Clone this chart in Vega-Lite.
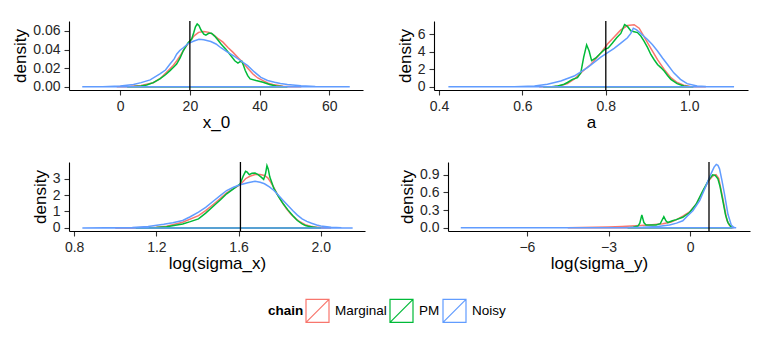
{
"$schema":"https://vega.github.io/schema/vega-lite/v6.json",
"padding":{"left":11,"top":20,"right":19,"bottom":16},
"datasets":{
"truth":[{"param":"x_0","value":20},{"param":"a","value":0.8},{"param":"log(sigma_x)","value":1.609},{"param":"log(sigma_y)","value":0.693}],
"dens":[
{"param":"x_0","chain":"Marginal","x":-1,"density":0},{"param":"x_0","chain":"Marginal","x":3,"density":0.0005},{"param":"x_0","chain":"Marginal","x":6,"density":0.0015},{"param":"x_0","chain":"Marginal","x":9.5,"density":0.0044},{"param":"x_0","chain":"Marginal","x":11.5,"density":0.009},{"param":"x_0","chain":"Marginal","x":13.3,"density":0.0156},{"param":"x_0","chain":"Marginal","x":15,"density":0.022},{"param":"x_0","chain":"Marginal","x":16.2,"density":0.0277},{"param":"x_0","chain":"Marginal","x":17.5,"density":0.035},{"param":"x_0","chain":"Marginal","x":18.6,"density":0.042},{"param":"x_0","chain":"Marginal","x":20,"density":0.049},{"param":"x_0","chain":"Marginal","x":21.3,"density":0.055},{"param":"x_0","chain":"Marginal","x":22.5,"density":0.0585},{"param":"x_0","chain":"Marginal","x":24,"density":0.0595},{"param":"x_0","chain":"Marginal","x":25.5,"density":0.0585},{"param":"x_0","chain":"Marginal","x":26.7,"density":0.056},{"param":"x_0","chain":"Marginal","x":28,"density":0.052},{"param":"x_0","chain":"Marginal","x":29.5,"density":0.048},{"param":"x_0","chain":"Marginal","x":31,"density":0.042},{"param":"x_0","chain":"Marginal","x":32.4,"density":0.037},{"param":"x_0","chain":"Marginal","x":33.8,"density":0.0315},{"param":"x_0","chain":"Marginal","x":35.2,"density":0.026},{"param":"x_0","chain":"Marginal","x":36.6,"density":0.02},{"param":"x_0","chain":"Marginal","x":38.1,"density":0.0138},{"param":"x_0","chain":"Marginal","x":39.5,"density":0.0095},{"param":"x_0","chain":"Marginal","x":41,"density":0.0067},{"param":"x_0","chain":"Marginal","x":42.5,"density":0.004},{"param":"x_0","chain":"Marginal","x":43.8,"density":0.0025},{"param":"x_0","chain":"Marginal","x":46.7,"density":0.0006},{"param":"x_0","chain":"Marginal","x":50,"density":0.0001},{"param":"x_0","chain":"Marginal","x":52,"density":0},
{"param":"x_0","chain":"PM","x":2,"density":0},{"param":"x_0","chain":"PM","x":4,"density":0.0003},{"param":"x_0","chain":"PM","x":6,"density":0.001},{"param":"x_0","chain":"PM","x":7.6,"density":0.002},{"param":"x_0","chain":"PM","x":9.5,"density":0.0045},{"param":"x_0","chain":"PM","x":11.4,"density":0.0085},{"param":"x_0","chain":"PM","x":13,"density":0.013},{"param":"x_0","chain":"PM","x":14.3,"density":0.0174},{"param":"x_0","chain":"PM","x":15.3,"density":0.021},{"param":"x_0","chain":"PM","x":16.2,"density":0.0245},{"param":"x_0","chain":"PM","x":17.2,"density":0.031},{"param":"x_0","chain":"PM","x":18.1,"density":0.0387},{"param":"x_0","chain":"PM","x":19.5,"density":0.0475},{"param":"x_0","chain":"PM","x":20.5,"density":0.051},{"param":"x_0","chain":"PM","x":21.1,"density":0.058},{"param":"x_0","chain":"PM","x":21.6,"density":0.0645},{"param":"x_0","chain":"PM","x":22.1,"density":0.0675},{"param":"x_0","chain":"PM","x":22.6,"density":0.066},{"param":"x_0","chain":"PM","x":23.2,"density":0.061},{"param":"x_0","chain":"PM","x":24,"density":0.0565},{"param":"x_0","chain":"PM","x":24.6,"density":0.0555},{"param":"x_0","chain":"PM","x":25.4,"density":0.0575},{"param":"x_0","chain":"PM","x":26.2,"density":0.0575},{"param":"x_0","chain":"PM","x":27.1,"density":0.0545},{"param":"x_0","chain":"PM","x":28,"density":0.0505},{"param":"x_0","chain":"PM","x":29,"density":0.0458},{"param":"x_0","chain":"PM","x":30.2,"density":0.041},{"param":"x_0","chain":"PM","x":31.4,"density":0.0352},{"param":"x_0","chain":"PM","x":32.9,"density":0.028},{"param":"x_0","chain":"PM","x":33.8,"density":0.0255},{"param":"x_0","chain":"PM","x":34.4,"density":0.027},{"param":"x_0","chain":"PM","x":34.9,"density":0.0275},{"param":"x_0","chain":"PM","x":35.4,"density":0.023},{"param":"x_0","chain":"PM","x":35.9,"density":0.0175},{"param":"x_0","chain":"PM","x":36.6,"density":0.012},{"param":"x_0","chain":"PM","x":37.3,"density":0.0085},{"param":"x_0","chain":"PM","x":39,"density":0.0067},{"param":"x_0","chain":"PM","x":41,"density":0.005},{"param":"x_0","chain":"PM","x":42.9,"density":0.0025},{"param":"x_0","chain":"PM","x":44.8,"density":0.0008},{"param":"x_0","chain":"PM","x":47,"density":0.0001},{"param":"x_0","chain":"PM","x":48,"density":0},
{"param":"x_0","chain":"Noisy","x":-10.9,"density":0},{"param":"x_0","chain":"Noisy","x":-5,"density":0.0001},{"param":"x_0","chain":"Noisy","x":0,"density":0.0008},{"param":"x_0","chain":"Noisy","x":3.8,"density":0.0024},{"param":"x_0","chain":"Noisy","x":6,"density":0.0045},{"param":"x_0","chain":"Noisy","x":8.6,"density":0.0075},{"param":"x_0","chain":"Noisy","x":11.4,"density":0.0138},{"param":"x_0","chain":"Noisy","x":13,"density":0.018},{"param":"x_0","chain":"Noisy","x":14.3,"density":0.0245},{"param":"x_0","chain":"Noisy","x":15.5,"density":0.03},{"param":"x_0","chain":"Noisy","x":16.2,"density":0.035},{"param":"x_0","chain":"Noisy","x":17.1,"density":0.039},{"param":"x_0","chain":"Noisy","x":18.1,"density":0.042},{"param":"x_0","chain":"Noisy","x":19.5,"density":0.0465},{"param":"x_0","chain":"Noisy","x":21,"density":0.049},{"param":"x_0","chain":"Noisy","x":22.6,"density":0.051},{"param":"x_0","chain":"Noisy","x":24,"density":0.0505},{"param":"x_0","chain":"Noisy","x":26,"density":0.0486},{"param":"x_0","chain":"Noisy","x":27.5,"density":0.046},{"param":"x_0","chain":"Noisy","x":28.9,"density":0.042},{"param":"x_0","chain":"Noisy","x":30.7,"density":0.0375},{"param":"x_0","chain":"Noisy","x":32.7,"density":0.033},{"param":"x_0","chain":"Noisy","x":34.6,"density":0.028},{"param":"x_0","chain":"Noisy","x":36.6,"density":0.0227},{"param":"x_0","chain":"Noisy","x":38.5,"density":0.016},{"param":"x_0","chain":"Noisy","x":40.4,"density":0.0102},{"param":"x_0","chain":"Noisy","x":42.3,"density":0.0068},{"param":"x_0","chain":"Noisy","x":44.3,"density":0.0049},{"param":"x_0","chain":"Noisy","x":46,"density":0.0035},{"param":"x_0","chain":"Noisy","x":48,"density":0.0025},{"param":"x_0","chain":"Noisy","x":51.9,"density":0.0012},{"param":"x_0","chain":"Noisy","x":56,"density":0.0004},{"param":"x_0","chain":"Noisy","x":60,"density":0.0001},{"param":"x_0","chain":"Noisy","x":65.9,"density":0},
{"param":"a","chain":"Marginal","x":0.64,"density":0},{"param":"a","chain":"Marginal","x":0.677,"density":0.05},{"param":"a","chain":"Marginal","x":0.69,"density":0.12},{"param":"a","chain":"Marginal","x":0.708,"density":0.37},{"param":"a","chain":"Marginal","x":0.725,"density":0.9},{"param":"a","chain":"Marginal","x":0.74,"density":1.6},{"param":"a","chain":"Marginal","x":0.752,"density":2.1},{"param":"a","chain":"Marginal","x":0.764,"density":2.55},{"param":"a","chain":"Marginal","x":0.776,"density":3.2},{"param":"a","chain":"Marginal","x":0.788,"density":3.86},{"param":"a","chain":"Marginal","x":0.804,"density":4.9},{"param":"a","chain":"Marginal","x":0.82,"density":5.7},{"param":"a","chain":"Marginal","x":0.836,"density":6.5},{"param":"a","chain":"Marginal","x":0.852,"density":7.0},{"param":"a","chain":"Marginal","x":0.868,"density":7.1},{"param":"a","chain":"Marginal","x":0.88,"density":6.7},{"param":"a","chain":"Marginal","x":0.892,"density":5.7},{"param":"a","chain":"Marginal","x":0.908,"density":4.4},{"param":"a","chain":"Marginal","x":0.924,"density":3.1},{"param":"a","chain":"Marginal","x":0.94,"density":2.0},{"param":"a","chain":"Marginal","x":0.956,"density":1.05},{"param":"a","chain":"Marginal","x":0.971,"density":0.5},{"param":"a","chain":"Marginal","x":0.987,"density":0.19},{"param":"a","chain":"Marginal","x":1.003,"density":0.05},{"param":"a","chain":"Marginal","x":1.02,"density":0.01},{"param":"a","chain":"Marginal","x":1.04,"density":0},
{"param":"a","chain":"PM","x":0.65,"density":0},{"param":"a","chain":"PM","x":0.67,"density":0.02},{"param":"a","chain":"PM","x":0.685,"density":0.1},{"param":"a","chain":"PM","x":0.7,"density":0.3},{"param":"a","chain":"PM","x":0.708,"density":0.5},{"param":"a","chain":"PM","x":0.72,"density":0.86},{"param":"a","chain":"PM","x":0.732,"density":1.05},{"param":"a","chain":"PM","x":0.74,"density":1.6},{"param":"a","chain":"PM","x":0.747,"density":3.4},{"param":"a","chain":"PM","x":0.754,"density":4.8},{"param":"a","chain":"PM","x":0.76,"density":4.1},{"param":"a","chain":"PM","x":0.766,"density":3.0},{"param":"a","chain":"PM","x":0.776,"density":3.3},{"param":"a","chain":"PM","x":0.788,"density":3.86},{"param":"a","chain":"PM","x":0.798,"density":4.3},{"param":"a","chain":"PM","x":0.806,"density":4.45},{"param":"a","chain":"PM","x":0.816,"density":5.0},{"param":"a","chain":"PM","x":0.826,"density":5.6},{"param":"a","chain":"PM","x":0.836,"density":6.1},{"param":"a","chain":"PM","x":0.845,"density":7.1},{"param":"a","chain":"PM","x":0.852,"density":6.9},{"param":"a","chain":"PM","x":0.86,"density":6.4},{"param":"a","chain":"PM","x":0.868,"density":6.3},{"param":"a","chain":"PM","x":0.876,"density":6.2},{"param":"a","chain":"PM","x":0.884,"density":5.8},{"param":"a","chain":"PM","x":0.892,"density":5.2},{"param":"a","chain":"PM","x":0.9,"density":4.5},{"param":"a","chain":"PM","x":0.908,"density":3.7},{"param":"a","chain":"PM","x":0.916,"density":3.1},{"param":"a","chain":"PM","x":0.924,"density":2.55},{"param":"a","chain":"PM","x":0.932,"density":2.2},{"param":"a","chain":"PM","x":0.94,"density":1.8},{"param":"a","chain":"PM","x":0.948,"density":1.3},{"param":"a","chain":"PM","x":0.956,"density":0.86},{"param":"a","chain":"PM","x":0.971,"density":0.37},{"param":"a","chain":"PM","x":0.987,"density":0.11},{"param":"a","chain":"PM","x":1.0,"density":0.02},{"param":"a","chain":"PM","x":1.01,"density":0},
{"param":"a","chain":"Noisy","x":0.4225,"density":0},{"param":"a","chain":"Noisy","x":0.5,"density":0.003},{"param":"a","chain":"Noisy","x":0.581,"density":0.02},{"param":"a","chain":"Noisy","x":0.629,"density":0.11},{"param":"a","chain":"Noisy","x":0.66,"density":0.3},{"param":"a","chain":"Noisy","x":0.692,"density":0.67},{"param":"a","chain":"Noisy","x":0.724,"density":1.24},{"param":"a","chain":"Noisy","x":0.756,"density":2.2},{"param":"a","chain":"Noisy","x":0.788,"density":3.4},{"param":"a","chain":"Noisy","x":0.82,"density":4.4},{"param":"a","chain":"Noisy","x":0.836,"density":5.0},{"param":"a","chain":"Noisy","x":0.852,"density":5.6},{"param":"a","chain":"Noisy","x":0.86,"density":6.1},{"param":"a","chain":"Noisy","x":0.866,"density":6.7},{"param":"a","chain":"Noisy","x":0.874,"density":6.5},{"param":"a","chain":"Noisy","x":0.884,"density":6.1},{"param":"a","chain":"Noisy","x":0.9,"density":5.4},{"param":"a","chain":"Noisy","x":0.912,"density":4.8},{"param":"a","chain":"Noisy","x":0.924,"density":4.1},{"param":"a","chain":"Noisy","x":0.936,"density":3.3},{"param":"a","chain":"Noisy","x":0.948,"density":2.55},{"param":"a","chain":"Noisy","x":0.963,"density":1.6},{"param":"a","chain":"Noisy","x":0.979,"density":0.86},{"param":"a","chain":"Noisy","x":0.995,"density":0.37},{"param":"a","chain":"Noisy","x":1.019,"density":0.11},{"param":"a","chain":"Noisy","x":1.04,"density":0.04},{"param":"a","chain":"Noisy","x":1.059,"density":0.02},{"param":"a","chain":"Noisy","x":1.08,"density":0.005},{"param":"a","chain":"Noisy","x":1.1076,"density":0},
{"param":"log(sigma_x)","chain":"Marginal","x":1.0,"density":0},{"param":"log(sigma_x)","chain":"Marginal","x":1.1,"density":0.005},{"param":"log(sigma_x)","chain":"Marginal","x":1.2,"density":0.04},{"param":"log(sigma_x)","chain":"Marginal","x":1.25,"density":0.1},{"param":"log(sigma_x)","chain":"Marginal","x":1.328,"density":0.34},{"param":"log(sigma_x)","chain":"Marginal","x":1.405,"density":0.75},{"param":"log(sigma_x)","chain":"Marginal","x":1.44,"density":1.05},{"param":"log(sigma_x)","chain":"Marginal","x":1.481,"density":1.47},{"param":"log(sigma_x)","chain":"Marginal","x":1.512,"density":1.8},{"param":"log(sigma_x)","chain":"Marginal","x":1.542,"density":2.14},{"param":"log(sigma_x)","chain":"Marginal","x":1.575,"density":2.4},{"param":"log(sigma_x)","chain":"Marginal","x":1.608,"density":2.63},{"param":"log(sigma_x)","chain":"Marginal","x":1.634,"density":3.0},{"param":"log(sigma_x)","chain":"Marginal","x":1.655,"density":3.15},{"param":"log(sigma_x)","chain":"Marginal","x":1.68,"density":3.25},{"param":"log(sigma_x)","chain":"Marginal","x":1.705,"density":3.25},{"param":"log(sigma_x)","chain":"Marginal","x":1.726,"density":3.2},{"param":"log(sigma_x)","chain":"Marginal","x":1.742,"density":3.05},{"param":"log(sigma_x)","chain":"Marginal","x":1.756,"density":2.79},{"param":"log(sigma_x)","chain":"Marginal","x":1.772,"density":2.45},{"param":"log(sigma_x)","chain":"Marginal","x":1.787,"density":2.08},{"param":"log(sigma_x)","chain":"Marginal","x":1.81,"density":1.6},{"param":"log(sigma_x)","chain":"Marginal","x":1.833,"density":1.16},{"param":"log(sigma_x)","chain":"Marginal","x":1.856,"density":0.82},{"param":"log(sigma_x)","chain":"Marginal","x":1.879,"density":0.55},{"param":"log(sigma_x)","chain":"Marginal","x":1.9,"density":0.36},{"param":"log(sigma_x)","chain":"Marginal","x":1.924,"density":0.2},{"param":"log(sigma_x)","chain":"Marginal","x":1.95,"density":0.1},{"param":"log(sigma_x)","chain":"Marginal","x":1.97,"density":0.06},{"param":"log(sigma_x)","chain":"Marginal","x":2.0,"density":0.02},{"param":"log(sigma_x)","chain":"Marginal","x":2.05,"density":0},
{"param":"log(sigma_x)","chain":"PM","x":1.1,"density":0},{"param":"log(sigma_x)","chain":"PM","x":1.2,"density":0.02},{"param":"log(sigma_x)","chain":"PM","x":1.25,"density":0.07},{"param":"log(sigma_x)","chain":"PM","x":1.328,"density":0.24},{"param":"log(sigma_x)","chain":"PM","x":1.365,"density":0.38},{"param":"log(sigma_x)","chain":"PM","x":1.405,"density":0.55},{"param":"log(sigma_x)","chain":"PM","x":1.44,"density":0.9},{"param":"log(sigma_x)","chain":"PM","x":1.481,"density":1.37},{"param":"log(sigma_x)","chain":"PM","x":1.512,"density":1.72},{"param":"log(sigma_x)","chain":"PM","x":1.542,"density":2.08},{"param":"log(sigma_x)","chain":"PM","x":1.575,"density":2.38},{"param":"log(sigma_x)","chain":"PM","x":1.608,"density":2.69},{"param":"log(sigma_x)","chain":"PM","x":1.622,"density":3.15},{"param":"log(sigma_x)","chain":"PM","x":1.634,"density":3.45},{"param":"log(sigma_x)","chain":"PM","x":1.642,"density":3.4},{"param":"log(sigma_x)","chain":"PM","x":1.652,"density":3.25},{"param":"log(sigma_x)","chain":"PM","x":1.665,"density":3.33},{"param":"log(sigma_x)","chain":"PM","x":1.68,"density":3.35},{"param":"log(sigma_x)","chain":"PM","x":1.695,"density":3.25},{"param":"log(sigma_x)","chain":"PM","x":1.71,"density":3.1},{"param":"log(sigma_x)","chain":"PM","x":1.722,"density":2.96},{"param":"log(sigma_x)","chain":"PM","x":1.731,"density":3.3},{"param":"log(sigma_x)","chain":"PM","x":1.738,"density":3.8},{"param":"log(sigma_x)","chain":"PM","x":1.744,"density":3.6},{"param":"log(sigma_x)","chain":"PM","x":1.752,"density":3.1},{"param":"log(sigma_x)","chain":"PM","x":1.762,"density":2.75},{"param":"log(sigma_x)","chain":"PM","x":1.772,"density":2.39},{"param":"log(sigma_x)","chain":"PM","x":1.795,"density":1.9},{"param":"log(sigma_x)","chain":"PM","x":1.817,"density":1.47},{"param":"log(sigma_x)","chain":"PM","x":1.84,"density":1.1},{"param":"log(sigma_x)","chain":"PM","x":1.863,"density":0.75},{"param":"log(sigma_x)","chain":"PM","x":1.886,"density":0.45},{"param":"log(sigma_x)","chain":"PM","x":1.909,"density":0.24},{"param":"log(sigma_x)","chain":"PM","x":1.925,"density":0.15},{"param":"log(sigma_x)","chain":"PM","x":1.939,"density":0.1},{"param":"log(sigma_x)","chain":"PM","x":1.96,"density":0.05},{"param":"log(sigma_x)","chain":"PM","x":1.98,"density":0.02},{"param":"log(sigma_x)","chain":"PM","x":2.0,"density":0},
{"param":"log(sigma_x)","chain":"Noisy","x":0.84,"density":0},{"param":"log(sigma_x)","chain":"Noisy","x":0.95,"density":0.005},{"param":"log(sigma_x)","chain":"Noisy","x":1.0,"density":0.01},{"param":"log(sigma_x)","chain":"Noisy","x":1.083,"density":0.03},{"param":"log(sigma_x)","chain":"Noisy","x":1.16,"density":0.09},{"param":"log(sigma_x)","chain":"Noisy","x":1.236,"density":0.22},{"param":"log(sigma_x)","chain":"Noisy","x":1.28,"density":0.32},{"param":"log(sigma_x)","chain":"Noisy","x":1.328,"density":0.45},{"param":"log(sigma_x)","chain":"Noisy","x":1.365,"density":0.68},{"param":"log(sigma_x)","chain":"Noisy","x":1.405,"density":0.96},{"param":"log(sigma_x)","chain":"Noisy","x":1.44,"density":1.25},{"param":"log(sigma_x)","chain":"Noisy","x":1.481,"density":1.67},{"param":"log(sigma_x)","chain":"Noisy","x":1.512,"density":1.98},{"param":"log(sigma_x)","chain":"Noisy","x":1.542,"density":2.28},{"param":"log(sigma_x)","chain":"Noisy","x":1.575,"density":2.48},{"param":"log(sigma_x)","chain":"Noisy","x":1.608,"density":2.63},{"param":"log(sigma_x)","chain":"Noisy","x":1.645,"density":2.75},{"param":"log(sigma_x)","chain":"Noisy","x":1.68,"density":2.84},{"param":"log(sigma_x)","chain":"Noisy","x":1.705,"density":2.78},{"param":"log(sigma_x)","chain":"Noisy","x":1.726,"density":2.69},{"param":"log(sigma_x)","chain":"Noisy","x":1.75,"density":2.5},{"param":"log(sigma_x)","chain":"Noisy","x":1.772,"density":2.28},{"param":"log(sigma_x)","chain":"Noisy","x":1.795,"density":1.98},{"param":"log(sigma_x)","chain":"Noisy","x":1.817,"density":1.67},{"param":"log(sigma_x)","chain":"Noisy","x":1.84,"density":1.36},{"param":"log(sigma_x)","chain":"Noisy","x":1.863,"density":1.06},{"param":"log(sigma_x)","chain":"Noisy","x":1.886,"density":0.78},{"param":"log(sigma_x)","chain":"Noisy","x":1.909,"density":0.55},{"param":"log(sigma_x)","chain":"Noisy","x":1.932,"density":0.4},{"param":"log(sigma_x)","chain":"Noisy","x":1.955,"density":0.28},{"param":"log(sigma_x)","chain":"Noisy","x":1.98,"density":0.18},{"param":"log(sigma_x)","chain":"Noisy","x":2.0,"density":0.12},{"param":"log(sigma_x)","chain":"Noisy","x":2.05,"density":0.04},{"param":"log(sigma_x)","chain":"Noisy","x":2.1,"density":0.01},{"param":"log(sigma_x)","chain":"Noisy","x":2.155,"density":0},
{"param":"log(sigma_y)","chain":"Marginal","x":-4.5,"density":0},{"param":"log(sigma_y)","chain":"Marginal","x":-4,"density":0.005},{"param":"log(sigma_y)","chain":"Marginal","x":-3,"density":0.015},{"param":"log(sigma_y)","chain":"Marginal","x":-2.5,"density":0.025},{"param":"log(sigma_y)","chain":"Marginal","x":-2,"density":0.035},{"param":"log(sigma_y)","chain":"Marginal","x":-1.5,"density":0.05},{"param":"log(sigma_y)","chain":"Marginal","x":-1,"density":0.07},{"param":"log(sigma_y)","chain":"Marginal","x":-0.7,"density":0.1},{"param":"log(sigma_y)","chain":"Marginal","x":-0.5,"density":0.14},{"param":"log(sigma_y)","chain":"Marginal","x":-0.27,"density":0.2},{"param":"log(sigma_y)","chain":"Marginal","x":-0.02,"density":0.27},{"param":"log(sigma_y)","chain":"Marginal","x":0.22,"density":0.4},{"param":"log(sigma_y)","chain":"Marginal","x":0.47,"density":0.62},{"param":"log(sigma_y)","chain":"Marginal","x":0.68,"density":0.8},{"param":"log(sigma_y)","chain":"Marginal","x":0.83,"density":0.88},{"param":"log(sigma_y)","chain":"Marginal","x":0.95,"density":0.9},{"param":"log(sigma_y)","chain":"Marginal","x":1.05,"density":0.84},{"param":"log(sigma_y)","chain":"Marginal","x":1.2,"density":0.5},{"param":"log(sigma_y)","chain":"Marginal","x":1.35,"density":0.13},{"param":"log(sigma_y)","chain":"Marginal","x":1.45,"density":0.04},{"param":"log(sigma_y)","chain":"Marginal","x":1.55,"density":0.005},{"param":"log(sigma_y)","chain":"Marginal","x":1.6,"density":0},
{"param":"log(sigma_y)","chain":"PM","x":-2.3,"density":0},{"param":"log(sigma_y)","chain":"PM","x":-2.1,"density":0.01},{"param":"log(sigma_y)","chain":"PM","x":-1.92,"density":0.03},{"param":"log(sigma_y)","chain":"PM","x":-1.85,"density":0.08},{"param":"log(sigma_y)","chain":"PM","x":-1.776,"density":0.22},{"param":"log(sigma_y)","chain":"PM","x":-1.7,"density":0.09},{"param":"log(sigma_y)","chain":"PM","x":-1.62,"density":0.05},{"param":"log(sigma_y)","chain":"PM","x":-1.25,"density":0.05},{"param":"log(sigma_y)","chain":"PM","x":-1.1,"density":0.07},{"param":"log(sigma_y)","chain":"PM","x":-0.967,"density":0.19},{"param":"log(sigma_y)","chain":"PM","x":-0.89,"density":0.12},{"param":"log(sigma_y)","chain":"PM","x":-0.82,"density":0.09},{"param":"log(sigma_y)","chain":"PM","x":-0.65,"density":0.12},{"param":"log(sigma_y)","chain":"PM","x":-0.51,"density":0.14},{"param":"log(sigma_y)","chain":"PM","x":-0.27,"density":0.18},{"param":"log(sigma_y)","chain":"PM","x":-0.02,"density":0.26},{"param":"log(sigma_y)","chain":"PM","x":0.22,"density":0.4},{"param":"log(sigma_y)","chain":"PM","x":0.47,"density":0.63},{"param":"log(sigma_y)","chain":"PM","x":0.68,"density":0.81},{"param":"log(sigma_y)","chain":"PM","x":0.83,"density":0.9},{"param":"log(sigma_y)","chain":"PM","x":0.92,"density":0.89},{"param":"log(sigma_y)","chain":"PM","x":1.02,"density":0.83},{"param":"log(sigma_y)","chain":"PM","x":1.1,"density":0.7},{"param":"log(sigma_y)","chain":"PM","x":1.2,"density":0.46},{"param":"log(sigma_y)","chain":"PM","x":1.3,"density":0.22},{"param":"log(sigma_y)","chain":"PM","x":1.39,"density":0.09},{"param":"log(sigma_y)","chain":"PM","x":1.51,"density":0.01},{"param":"log(sigma_y)","chain":"PM","x":1.55,"density":0},
{"param":"log(sigma_y)","chain":"Noisy","x":-8.43,"density":0},{"param":"log(sigma_y)","chain":"Noisy","x":-6,"density":0.0005},{"param":"log(sigma_y)","chain":"Noisy","x":-4,"density":0.001},{"param":"log(sigma_y)","chain":"Noisy","x":-2.5,"density":0.004},{"param":"log(sigma_y)","chain":"Noisy","x":-1.74,"density":0.01},{"param":"log(sigma_y)","chain":"Noisy","x":-1.2,"density":0.025},{"param":"log(sigma_y)","chain":"Noisy","x":-0.76,"density":0.05},{"param":"log(sigma_y)","chain":"Noisy","x":-0.5,"density":0.08},{"param":"log(sigma_y)","chain":"Noisy","x":-0.27,"density":0.12},{"param":"log(sigma_y)","chain":"Noisy","x":-0.1,"density":0.2},{"param":"log(sigma_y)","chain":"Noisy","x":0.1,"density":0.29},{"param":"log(sigma_y)","chain":"Noisy","x":0.35,"density":0.46},{"param":"log(sigma_y)","chain":"Noisy","x":0.59,"density":0.72},{"param":"log(sigma_y)","chain":"Noisy","x":0.77,"density":0.92},{"param":"log(sigma_y)","chain":"Noisy","x":0.88,"density":1.03},{"param":"log(sigma_y)","chain":"Noisy","x":0.96,"density":1.075},{"param":"log(sigma_y)","chain":"Noisy","x":1.02,"density":1.06},{"param":"log(sigma_y)","chain":"Noisy","x":1.08,"density":1.0},{"param":"log(sigma_y)","chain":"Noisy","x":1.17,"density":0.8},{"param":"log(sigma_y)","chain":"Noisy","x":1.26,"density":0.58},{"param":"log(sigma_y)","chain":"Noisy","x":1.39,"density":0.23},{"param":"log(sigma_y)","chain":"Noisy","x":1.51,"density":0.05},{"param":"log(sigma_y)","chain":"Noisy","x":1.6,"density":0.01},{"param":"log(sigma_y)","chain":"Noisy","x":1.69,"density":0}
]},
"vconcat":[
{"hconcat":[
{"width":294,"height":69,"layer":[
{"data":{"name":"dens"},"transform":[{"filter":"datum.param === 'x_0'"}],"mark":{"type":"area","fill":"transparent","strokeWidth":1.5},
"encoding":{"x":{"field":"x","type":"quantitative","scale":{"domain":[-14.7,69.7],"nice":false,"zero":false},"axis":{"title":"x_0","values":[0,20,40,60],"format":"d"}},
"y":{"field":"density","type":"quantitative","scale":{"domain":[-0.0034,0.0707],"nice":false,"zero":false},"axis":{"title":"density","values":[0,0.02,0.04,0.06],"format":".2f"}},
"y2":{"datum":0},
"stroke":{"field":"chain","type":"nominal","scale":{"domain":["Marginal","PM","Noisy"],"range":["#F8766D","#00BA38","#619CFF"]},"title":"chain"}}},
{"data":{"name":"truth"},"transform":[{"filter":"datum.param === 'x_0'"}],"mark":{"type":"rule","color":"#000000","strokeWidth":1.3},"encoding":{"x":{"field":"value","type":"quantitative"}}}
]},
{"width":314,"height":69,"layer":[
{"data":{"name":"dens"},"transform":[{"filter":"datum.param === 'a'"}],"mark":{"type":"area","fill":"transparent","strokeWidth":1.5},
"encoding":{"x":{"field":"x","type":"quantitative","scale":{"domain":[0.388,1.141],"nice":false,"zero":false},"axis":{"title":"a","values":[0.4,0.6,0.8,1.0],"format":".1f"}},
"y":{"field":"density","type":"quantitative","scale":{"domain":[-0.357,7.52],"nice":false,"zero":false},"axis":{"title":"density","values":[0,2,4,6],"format":"d"}},
"y2":{"datum":0},
"stroke":{"field":"chain","type":"nominal","scale":{"domain":["Marginal","PM","Noisy"],"range":["#F8766D","#00BA38","#619CFF"]},"title":"chain"}}},
{"data":{"name":"truth"},"transform":[{"filter":"datum.param === 'a'"}],"mark":{"type":"rule","color":"#000000","strokeWidth":1.3},"encoding":{"x":{"field":"value","type":"quantitative"}}}
]}
],"spacing":33,"resolve":{"scale":{"x":"independent","y":"independent"}}},
{"hconcat":[
{"width":296,"height":69,"layer":[
{"data":{"name":"dens"},"transform":[{"filter":"datum.param === 'log(sigma_x)'"}],"mark":{"type":"area","fill":"transparent","strokeWidth":1.5},
"encoding":{"x":{"field":"x","type":"quantitative","scale":{"domain":[0.775,2.215],"nice":false,"zero":false},"axis":{"title":"log(sigma_x)","values":[0.8,1.2,1.6,2.0],"format":".1f"}},
"y":{"field":"density","type":"quantitative","scale":{"domain":[-0.19,4.02],"nice":false,"zero":false},"axis":{"title":"density","values":[0,1,2,3],"format":"d"}},
"y2":{"datum":0},
"stroke":{"field":"chain","type":"nominal","scale":{"domain":["Marginal","PM","Noisy"],"range":["#F8766D","#00BA38","#619CFF"]},"title":"chain"}}},
{"data":{"name":"truth"},"transform":[{"filter":"datum.param === 'log(sigma_x)'"}],"mark":{"type":"rule","color":"#000000","strokeWidth":1.3},"encoding":{"x":{"field":"value","type":"quantitative"}}}
]},
{"width":302,"height":69,"layer":[
{"data":{"name":"dens"},"transform":[{"filter":"datum.param === 'log(sigma_y)'"}],"mark":{"type":"area","fill":"transparent","strokeWidth":1.5},
"encoding":{"x":{"field":"x","type":"quantitative","scale":{"domain":[-8.9,2.2],"nice":false,"zero":false},"axis":{"title":"log(sigma_y)","values":[-6,-3,0],"format":"d"}},
"y":{"field":"density","type":"quantitative","scale":{"domain":[-0.053,1.116],"nice":false,"zero":false},"axis":{"title":"density","values":[0,0.3,0.6,0.9],"format":".1f"}},
"y2":{"datum":0},
"stroke":{"field":"chain","type":"nominal","scale":{"domain":["Marginal","PM","Noisy"],"range":["#F8766D","#00BA38","#619CFF"]},"title":"chain"}}},
{"data":{"name":"truth"},"transform":[{"filter":"datum.param === 'log(sigma_y)'"}],"mark":{"type":"rule","color":"#000000","strokeWidth":1.3},"encoding":{"x":{"field":"value","type":"quantitative"}}}
]}
],"spacing":33,"resolve":{"scale":{"x":"independent","y":"independent"}}}
],
"spacing":31,
"resolve":{"scale":{"x":"independent","y":"independent","stroke":"shared"}},
"config":{
"font":"Liberation Sans",
"view":{"stroke":null},
"axis":{"grid":false,"domainColor":"#000000","domainWidth":1.1,"tickColor":"#333333","tickSize":5,"tickWidth":1.1,"labelFontSize":14,"labelColor":"#262626","titleFontSize":17,"titleFontWeight":"normal","titleColor":"#000000","labelOverlap":false,"labelFlush":false},
"axisX":{"labelPadding":4,"titlePadding":1},
"axisY":{"labelPadding":4,"titlePadding":3},
"legend":{"orient":"none","legendX":199,"legendY":277,"direction":"horizontal","titleOrient":"left","titleFontSize":13.5,"titleFontWeight":"bold","titleColor":"#000000","titlePadding":1,"titleAnchor":"middle","titleBaseline":"middle","labelFontSize":13.5,"labelColor":"#000000","labelOffset":5,"columnPadding":0,"symbolType":"M-1,-1H1V1H-1Z M-1,1L1,-1","symbolSize":529,"symbolStrokeWidth":1.2,"symbolFillColor":"transparent","padding":0}
}
}
